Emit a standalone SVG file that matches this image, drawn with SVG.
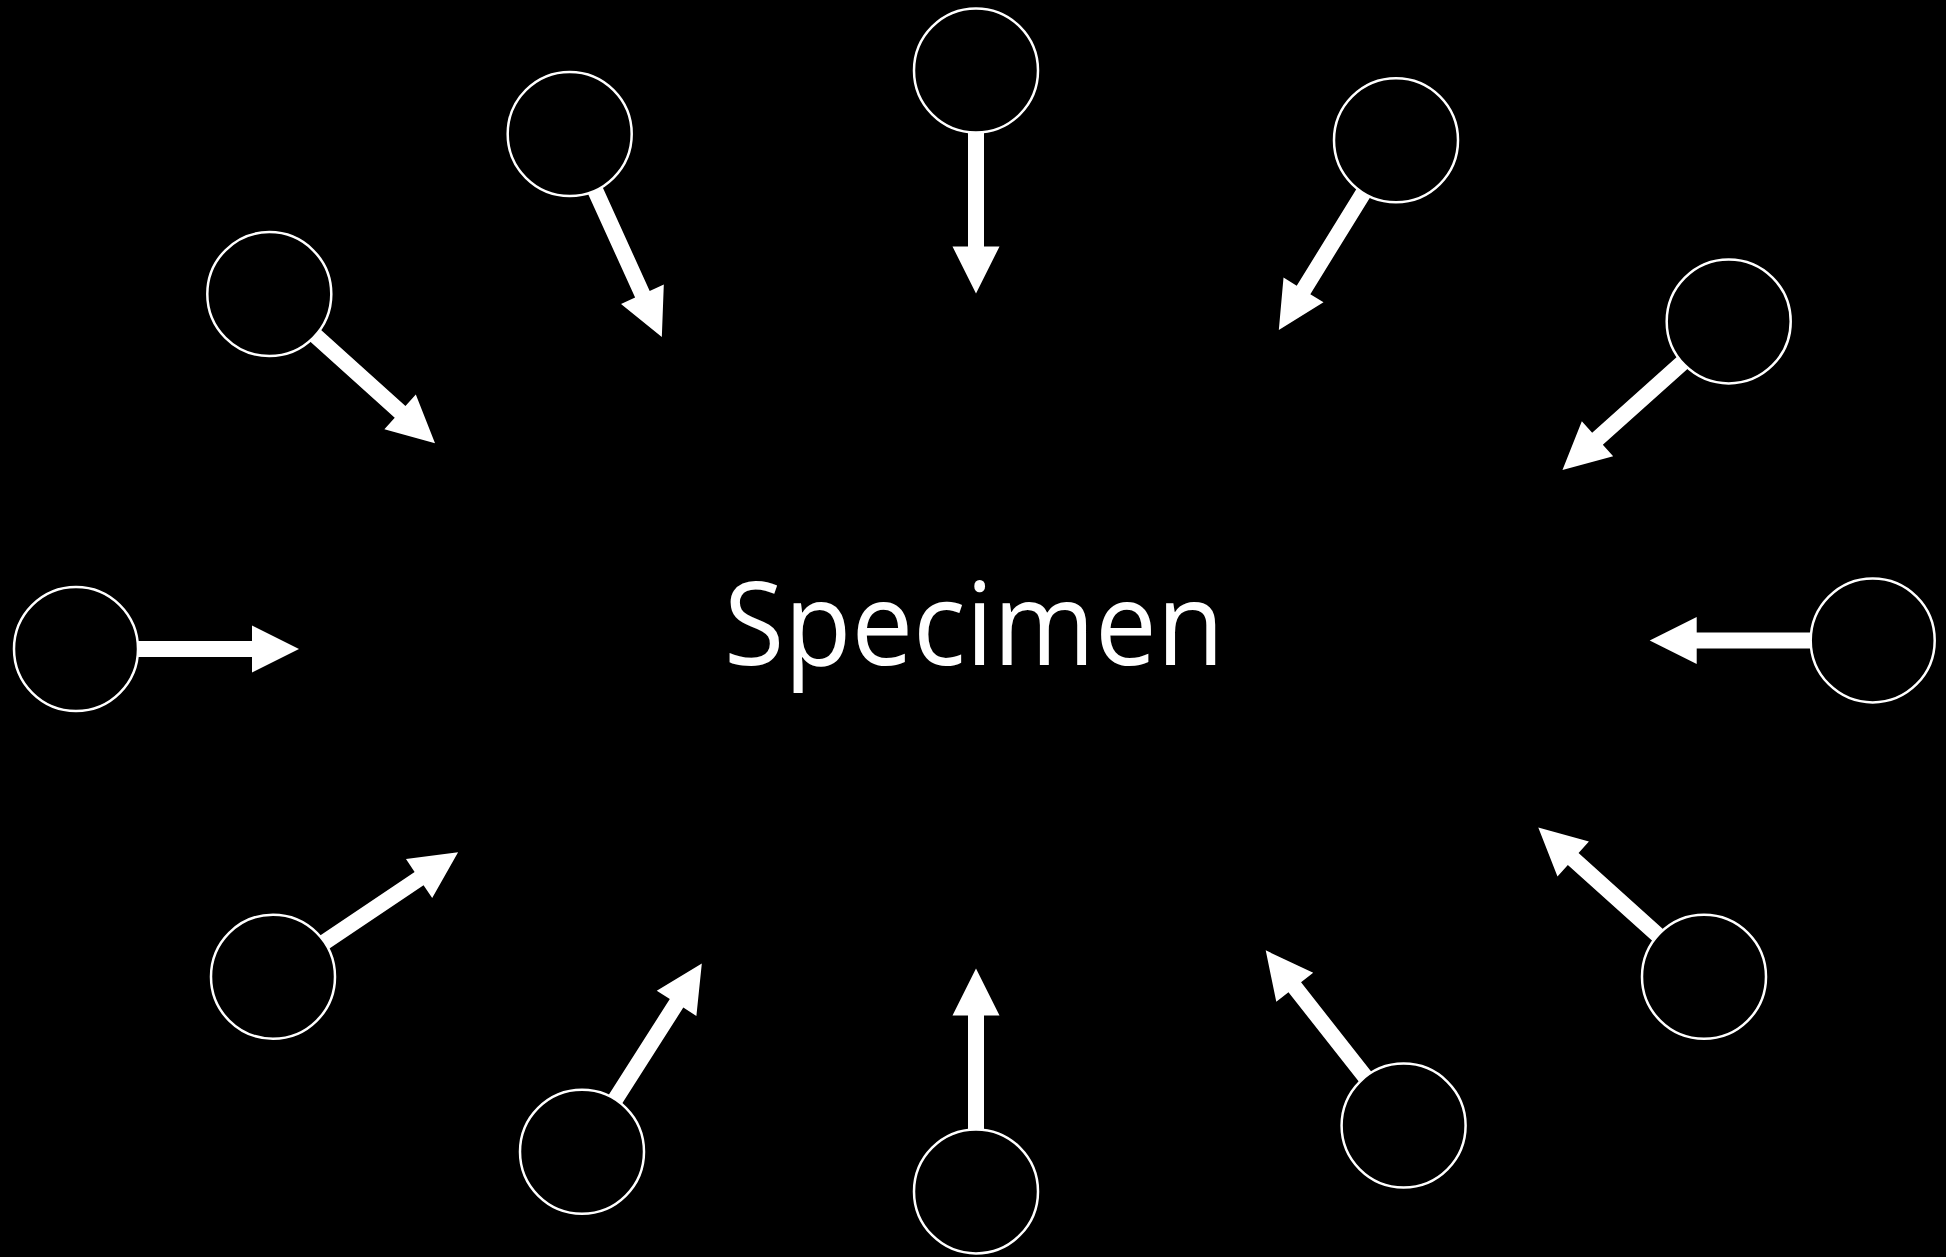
<svg xmlns="http://www.w3.org/2000/svg" xmlns:xlink="http://www.w3.org/1999/xlink" width="1946" height="1257" viewBox="0 0 1946 1257">
<style>
.node circle{fill:#000;stroke:#fff;stroke-width:2.5}
.arrow{fill:#fff}
.label{fill:#fff;font-family:"Open Sans","Liberation Sans",sans-serif;font-size:115px}
</style>
<defs>
<path id="arr" class="arrow" d="M55,-8 H176 V-23.5 L223,0 L176,23.5 V8 H55 Z"/>
</defs>
<rect width="1946" height="1257" fill="#000"/>
<g id="connectors">
<use xlink:href="#arr" transform="translate(976,70.5) rotate(90)"/>
<use xlink:href="#arr" transform="translate(569.7,134) rotate(65.6)"/>
<use xlink:href="#arr" transform="translate(269.3,294.1) rotate(42)"/>
<use xlink:href="#arr" transform="translate(76,649) rotate(0)"/>
<use xlink:href="#arr" transform="translate(273,976.7) rotate(-33.9)"/>
<use xlink:href="#arr" transform="translate(582,1151.7) rotate(-57.5)"/>
<use xlink:href="#arr" transform="translate(976,1191.4) rotate(-90)"/>
<use xlink:href="#arr" transform="translate(1403.6,1125.6) rotate(-128.2)"/>
<use xlink:href="#arr" transform="translate(1704,976.7) rotate(-138)"/>
<use xlink:href="#arr" transform="translate(1872.7,640.4) rotate(180)"/>
<use xlink:href="#arr" transform="translate(1728.7,321.4) rotate(138.2)"/>
<use xlink:href="#arr" transform="translate(1396,140.2) rotate(121.7)"/>
</g>
<g id="n1" class="node"><circle cx="976" cy="70.5" r="62"/></g>
<g id="n2" class="node"><circle cx="569.7" cy="134" r="62"/></g>
<g id="n3" class="node"><circle cx="269.3" cy="294.1" r="62"/></g>
<g id="n4" class="node"><circle cx="76" cy="649" r="62"/></g>
<g id="n5" class="node"><circle cx="273" cy="976.7" r="62"/></g>
<g id="n6" class="node"><circle cx="582" cy="1151.7" r="62"/></g>
<g id="n7" class="node"><circle cx="976" cy="1191.4" r="62"/></g>
<g id="n8" class="node"><circle cx="1403.6" cy="1125.6" r="62"/></g>
<g id="n9" class="node"><circle cx="1704" cy="976.7" r="62"/></g>
<g id="n10" class="node"><circle cx="1872.7" cy="640.4" r="62"/></g>
<g id="n11" class="node"><circle cx="1728.7" cy="321.4" r="62"/></g>
<g id="n12" class="node"><circle cx="1396" cy="140.2" r="62"/></g>
<g id="specimen"><text class="label" x="974" y="665" text-anchor="middle" textLength="500" lengthAdjust="spacingAndGlyphs">Specimen</text></g>
</svg>
